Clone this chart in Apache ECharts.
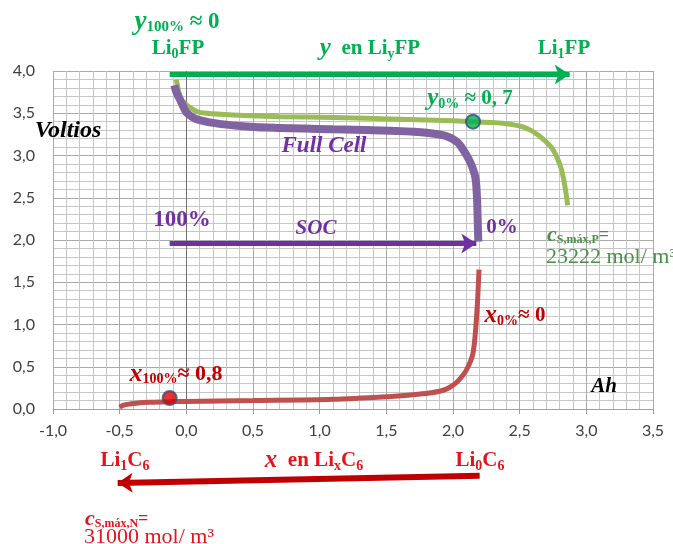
<!DOCTYPE html>
<html>
<head>
<meta charset="utf-8">
<script src="https://cdn.jsdelivr.net/npm/echarts@6/dist/echarts.min.js"></script>
<style>
  html, body { margin: 0; padding: 0; background: #ffffff; }
  #chart { width: 673px; height: 544px; }
</style>
</head>
<body>
<div id="chart"></div>
<script>
// Axis ranges and tick labels
const xTicks = [-1.0, -0.5, 0.0, 0.5, 1.0, 1.5, 2.0, 2.5, 3.0, 3.5];
const yTicks = [0.0, 0.5, 1.0, 1.5, 2.0, 2.5, 3.0, 3.5, 4.0];

// Cathode LiyFP potential (V) vs capacity (Ah)
const cathodeAh = [-0.075, -0.06, -0.04, 0.0, 0.025, 0.08, 0.15, 0.35, 0.7, 1.1, 1.6, 2.0, 2.15, 2.3, 2.43, 2.52, 2.58, 2.64, 2.7, 2.75, 2.8, 2.83, 2.86];
const cathodeV = [3.90, 3.78, 3.67, 3.60, 3.57, 3.52, 3.50, 3.48, 3.46, 3.45, 3.43, 3.41, 3.40, 3.39, 3.37, 3.34, 3.30, 3.24, 3.16, 3.07, 2.90, 2.72, 2.41];

// Full cell voltage (V) vs capacity (Ah)
const cellAh = [-0.09, -0.075, -0.05, -0.02, 0.0, 0.05, 0.1, 0.225, 0.4, 0.6, 1.1, 1.58, 1.8, 1.95, 2.03, 2.075, 2.12, 2.15, 2.17, 2.18, 2.185, 2.19];
const cellV = [3.83, 3.75, 3.67, 3.57, 3.51, 3.45, 3.42, 3.38, 3.35, 3.33, 3.31, 3.29, 3.27, 3.23, 3.16, 3.07, 2.95, 2.84, 2.72, 2.5, 2.25, 1.98];

// Anode LixC6 potential (V) vs capacity (Ah)
const anodeAh = [-0.5, -0.47, -0.42, -0.35, -0.25, -0.125, 0.0, 0.5, 1.1, 1.5, 1.7, 1.825, 1.9, 1.95, 1.99, 2.03, 2.07, 2.1, 2.13, 2.15, 2.165, 2.175, 2.185, 2.195];
const anodeV = [0.02, 0.045, 0.06, 0.075, 0.08, 0.085, 0.09, 0.10, 0.115, 0.146, 0.17, 0.19, 0.21, 0.235, 0.27, 0.32, 0.39, 0.46, 0.56, 0.66, 0.85, 1.05, 1.3, 1.65];

// Highlighted stoichiometry points
const cathodePoint = [2.15, 3.40];
const anodePoint = [-0.125, 0.13];

// Direction arrows (start, end) in Ah / V
const yArrow = [[-0.125, 3.96], [2.875, 3.96]];
const socArrow = [[-0.125, 1.96], [2.175, 1.96]];
const xArrow = [[2.2, -0.79], [-0.515, -0.875]];

const zip = (a, b) => a.map((v, i) => [v, b[i]]);
const fmt = v => v.toFixed(1).replace('.', ',');

const SERIF = '"Liberation Serif", "DejaVu Serif", serif';
const GREEN = '#00b050';
const PURPLE = '#7030a0';
const RED = '#e3141c';
const DARKRED = '#c00000';
const PGREEN = '#4a8f4a';

function rich(color, size) {
  return {
    n: { fontFamily: SERIF, fontWeight: 'bold', fontSize: size, fill: color },
    i: { fontFamily: SERIF, fontWeight: 'bold', fontStyle: 'italic', fontSize: size + 4, fill: color },
    s: { fontFamily: SERIF, fontWeight: 'bold', fontSize: Math.round(size * 0.65), fill: color, padding: [10, 0, 0, 0] },
    r: { fontFamily: SERIF, fontSize: size, fill: color }
  };
}

function label(x, y, text, color, size, align) {
  return {
    type: 'text',
    x: x, y: y,
    style: {
      text: text,
      rich: rich(color, size),
      fill: color,
      align: align || 'center',
      verticalAlign: 'middle'
    },
    z: 100
  };
}

function plain(x, y, text, color, font) {
  return {
    type: 'text',
    x: x, y: y,
    style: { text: text, font: font, fill: color, align: 'center', verticalAlign: 'middle' },
    z: 100
  };
}

const chart = echarts.init(document.getElementById('chart'));

function arrowSeries(coords, color, width) {
  return {
    type: 'lines',
    coordinateSystem: 'cartesian2d',
    clip: false,
    silent: true,
    symbol: ['none', 'arrow'],
    symbolSize: [13, 15],
    lineStyle: { color: color, width: width, opacity: 1, curveness: 0 },
    data: [{ coords: coords }],
    z: 5
  };
}

chart.setOption({
  animation: false,
  backgroundColor: '#ffffff',
  grid: { left: 53, top: 71, width: 600, height: 338, containLabel: false },
  xAxis: {
    type: 'value',
    min: xTicks[0],
    max: xTicks[xTicks.length - 1],
    interval: 0.5,
    axisLine: { show: true, onZero: false, lineStyle: { color: '#a0a0a0', width: 1 } },
    axisTick: { show: true, length: 5, lineStyle: { color: '#a0a0a0' } },
    axisLabel: { formatter: fmt, margin: 14, fontFamily: 'Lato', fontSize: 16, color: '#404040' },
    splitLine: { show: true, lineStyle: { color: '#aaaaaa', width: 1 } },
    minorTick: { show: false, splitNumber: 5 },
    minorSplitLine: { show: true, lineStyle: { color: '#c6c6c6', width: 1 } }
  },
  yAxis: {
    type: 'value',
    min: yTicks[0],
    max: yTicks[yTicks.length - 1],
    interval: 0.5,
    axisLine: { show: false },
    axisTick: { show: false },
    axisLabel: { formatter: fmt, margin: 18, fontFamily: 'Lato', fontSize: 16, color: '#404040' },
    splitLine: { show: true, lineStyle: { color: '#aaaaaa', width: 1 } },
    minorTick: { show: false, splitNumber: 5 },
    minorSplitLine: { show: true, lineStyle: { color: '#c6c6c6', width: 1 } }
  },
  series: [
    {
      type: 'line',
      data: zip(anodeAh, anodeV),
      smooth: 0.3,
      showSymbol: false,
      lineStyle: { color: '#c0504d', width: 5 },
      z: 3,
      markLine: {
        silent: true,
        symbol: 'none',
        label: { show: false },
        lineStyle: { color: '#707070', width: 1, type: 'solid' },
        data: [{ xAxis: 0 }],
        z: 1
      }
    },
    {
      type: 'line',
      data: zip(cathodeAh, cathodeV),
      smooth: 0.3,
      showSymbol: false,
      lineStyle: { color: '#9bbb59', width: 5 },
      z: 3
    },
    {
      type: 'line',
      data: zip(cellAh, cellV),
      smooth: 0.3,
      showSymbol: false,
      lineStyle: { color: '#8064a2', width: 8 },
      z: 4
    },
    arrowSeries(yArrow, GREEN, 5),
    arrowSeries(socArrow, PURPLE, 5),
    arrowSeries(xArrow, DARKRED, 6),
    {
      type: 'scatter',
      data: [cathodePoint],
      symbolSize: 14,
      itemStyle: { color: GREEN, borderColor: '#2f4d80', borderWidth: 2 },
      z: 10
    },
    {
      type: 'scatter',
      data: [anodePoint],
      symbolSize: 14,
      itemStyle: { color: '#e00000', borderColor: '#3a4f80', borderWidth: 2 },
      z: 10
    }
  ],
  graphic: [
    label(177, 22, '{i|y}{s|100%}{n| ≈ 0}', GREEN, 23),
    label(178, 49, '{n|Li}{s|0}{n|FP}', GREEN, 21),
    label(370, 49, '{i|y}{n|  en Li}{s|y}{n|FP}', GREEN, 21),
    label(564, 49, '{n|Li}{s|1}{n|FP}', GREEN, 21),
    label(470, 99, '{i|y}{s|0%}{n| ≈ 0, 7}', GREEN, 21),
    plain(68, 131, 'Voltios', '#000000', 'italic bold 24px ' + SERIF),
    plain(324, 146, 'Full Cell', PURPLE, 'italic bold 23px ' + SERIF),
    label(182, 220, '{n|100%}', PURPLE, 23),
    plain(316, 229, 'SOC', PURPLE, 'italic bold 21px ' + SERIF),
    label(502, 228, '{n|0%}', PURPLE, 21),
    label(547, 235, '{i|c}{s|S,máx,P}{n|=}', PGREEN, 18, 'left'),
    label(546, 257, '{r|23222 mol/ m³}', PGREEN, 22, 'left'),
    label(515, 316, '{i|x}{s|0%}{n|≈ 0}', DARKRED, 21),
    label(176, 374, '{i|x}{s|100%}{n|≈ 0,8}', DARKRED, 22),
    plain(604, 387, 'Ah', '#000000', 'italic bold 21px ' + SERIF),
    label(125, 461, '{n|Li}{s|1}{n|C}{s|6}', RED, 21),
    label(314, 461, '{i|x}{n|  en Li}{s|x}{n|C}{s|6}', RED, 21),
    label(480, 461, '{n|Li}{s|0}{n|C}{s|6}', RED, 21),
    label(85, 519, '{i|c}{s|S,máx,N}{n|=}', RED, 18, 'left'),
    label(84, 537, '{r|31000 mol/ m³}', RED, 22, 'left')
  ]
});
</script>
</body>
</html>
